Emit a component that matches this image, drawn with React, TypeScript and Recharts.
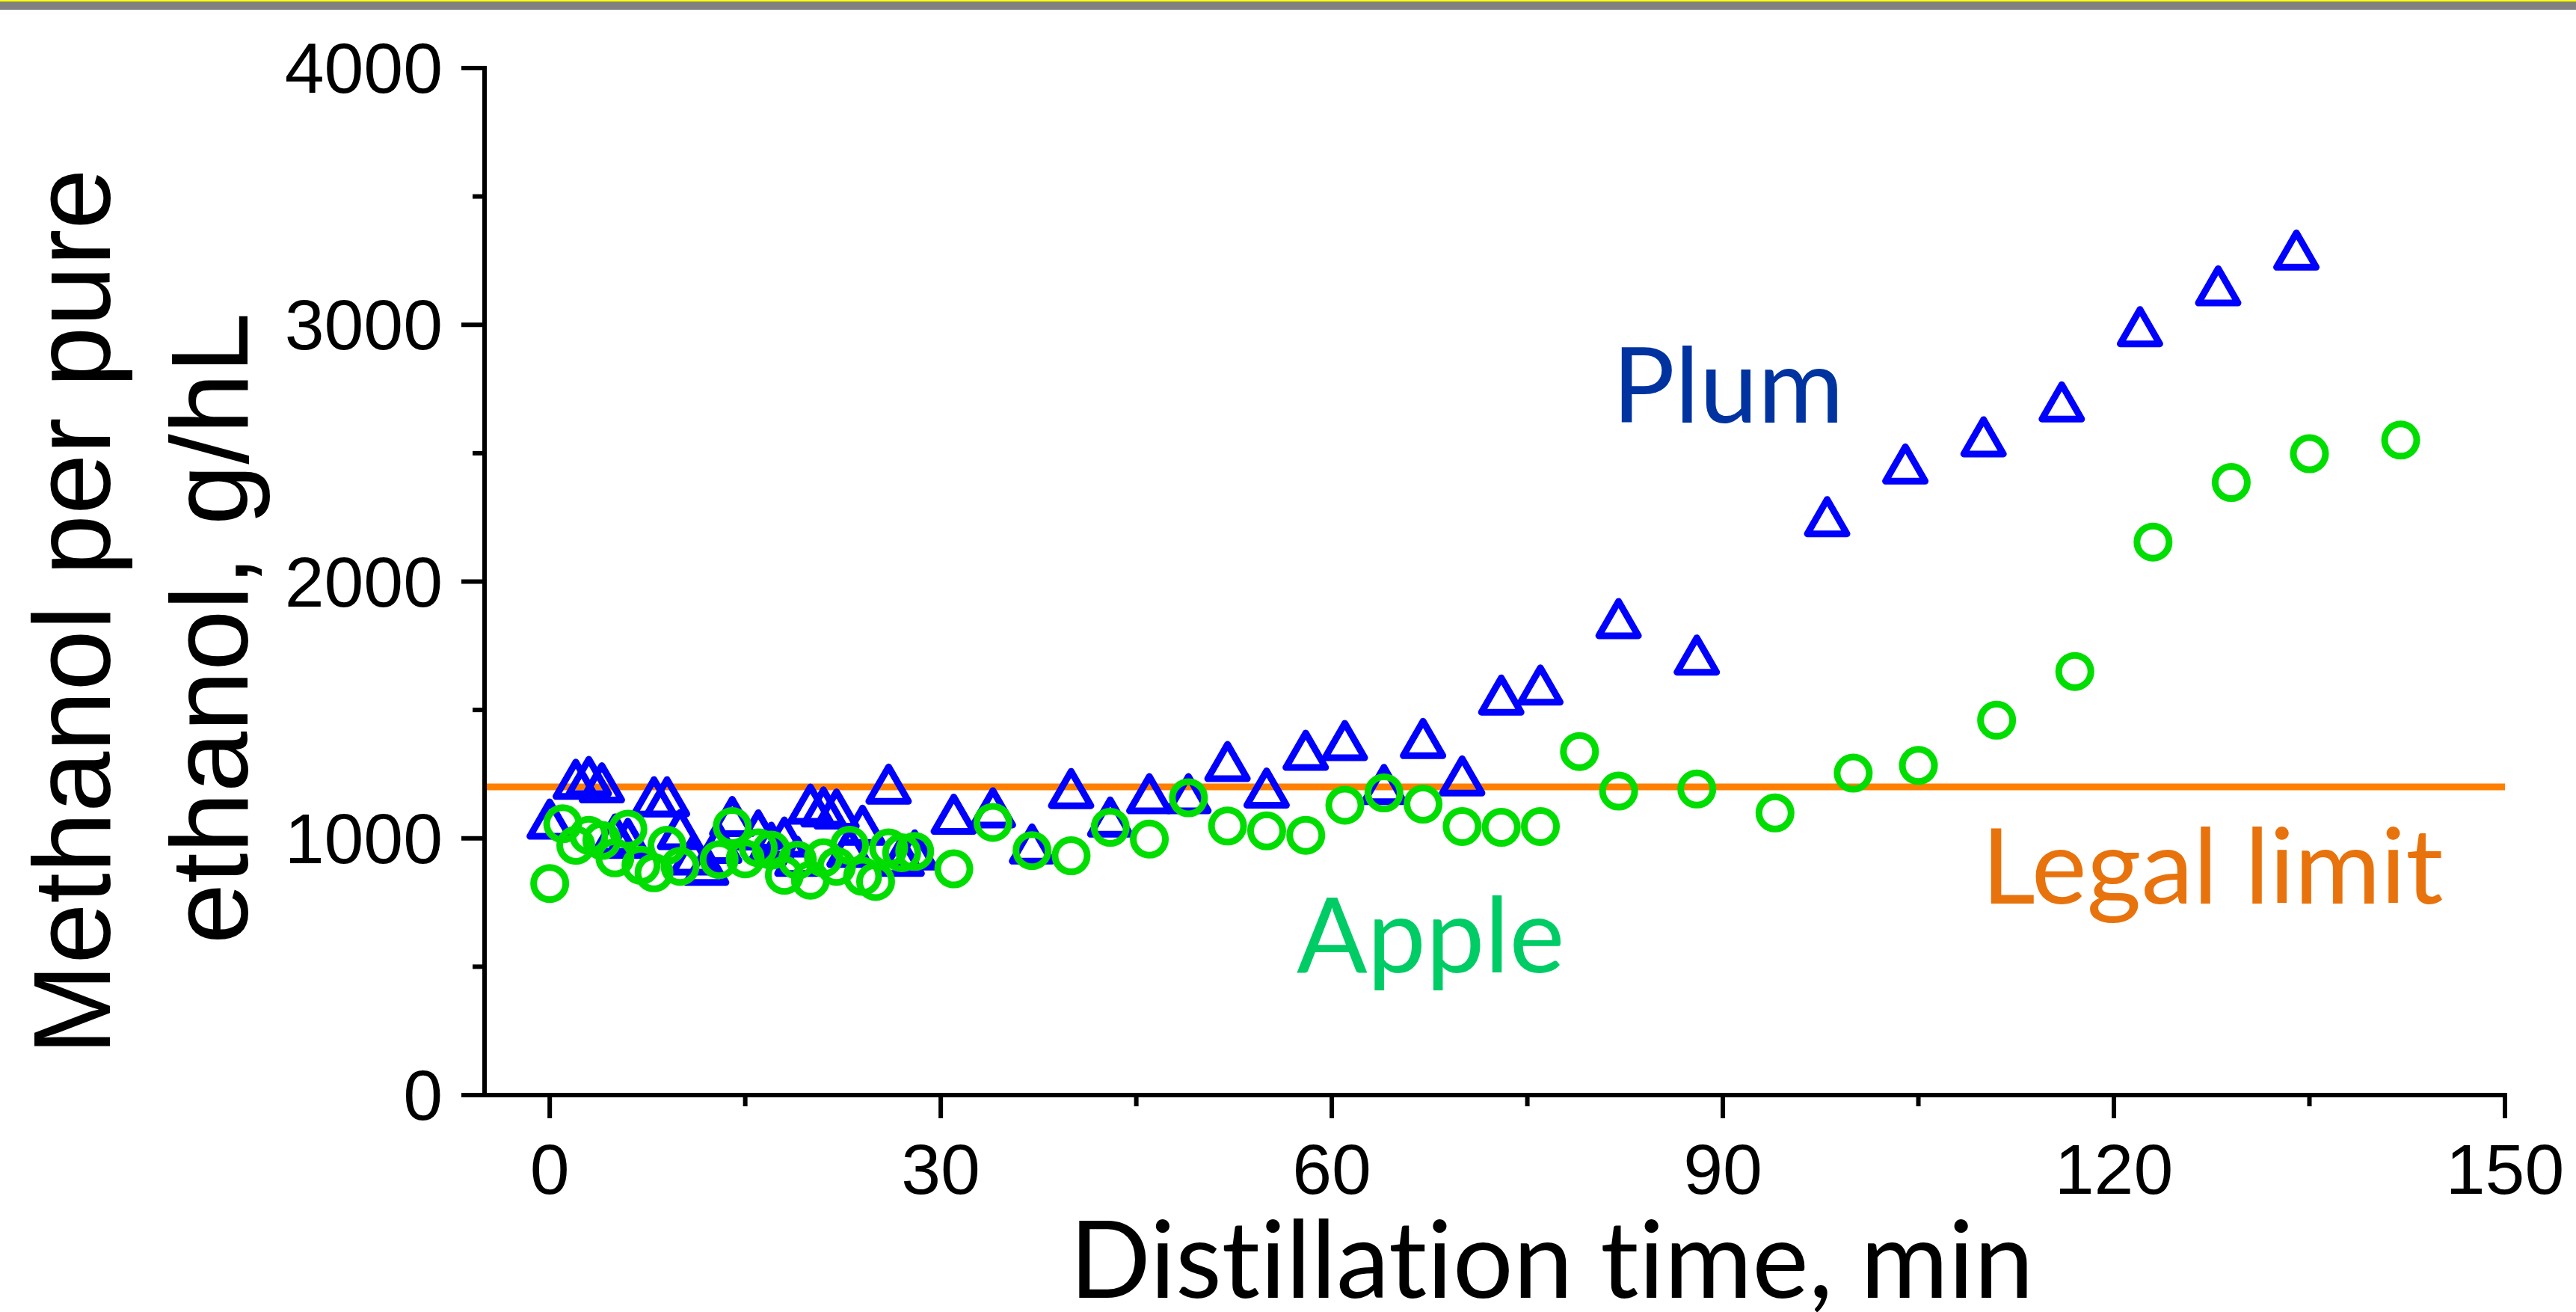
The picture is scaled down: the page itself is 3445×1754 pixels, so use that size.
import React from 'react';
import { ScatterChart, Scatter, XAxis, YAxis, ReferenceLine } from 'recharts';

const plumTime = [0, 2, 3, 4, 5, 6, 8, 9, 10, 11, 12, 13, 14, 16, 17, 18, 19, 20, 21, 22, 23, 24, 26, 27, 28, 31, 34, 37, 40, 43, 46, 49, 52, 55, 58, 61, 64, 67, 70, 73, 76, 82, 88, 98, 104, 110, 116, 122, 128, 134];
const plumMethanol = [1075, 1230, 1241, 1216, 1017, 1000, 1162, 1162, 1034, 935, 895, 980, 1085, 1033, 985, 1005, 930, 1133, 1122, 1114, 965, 1051, 1211, 930, 955, 1094, 1119, 978, 1194, 1083, 1174, 1174, 1299, 1196, 1343, 1381, 1210, 1389, 1243, 1558, 1597, 1856, 1714, 2253, 2458, 2564, 2700, 2993, 3152, 3291];

const appleTime = [0, 1, 2, 3, 4, 5, 6, 7, 8, 9, 10, 13, 14, 15, 16, 17, 18, 19, 20, 21, 22, 23, 24, 25, 26, 27, 28, 31, 34, 37, 40, 43, 46, 49, 52, 55, 58, 61, 64, 67, 70, 73, 76, 79, 82, 88, 94, 100, 105, 111, 117, 123, 129, 135, 142];
const appleMethanol = [824, 1057, 973, 1012, 992, 924, 1036, 895, 866, 973, 891, 917, 1046, 920, 963, 954, 856, 915, 837, 924, 891, 973, 852, 832, 963, 944, 949, 881, 1062, 952, 932, 1043, 997, 1158, 1048, 1029, 1012, 1129, 1177, 1133, 1046, 1043, 1046, 1338, 1184, 1192, 1099, 1254, 1284, 1460, 1650, 2154, 2386, 2498, 2551];

const legalLimit = 1200;
const xTicks = [0, 15, 30, 45, 60, 75, 90, 105, 120, 135, 150];
const yTicks = [0, 500, 1000, 1500, 2000, 2500, 3000, 3500, 4000];

const plumData = plumTime.map((t, i) => ({ x: t, y: plumMethanol[i] }));
const appleData = appleTime.map((t, i) => ({ x: t, y: appleMethanol[i] }));

const tickFont = "'Liberation Sans', Arial, sans-serif";
const calFont = "Lato, 'Open Sans', sans-serif";
const noLig = { fontVariantLigatures: 'none' as const, fontFeatureSettings: '"liga" 0, "clig" 0' };

const Triangle = (props: any) => {
  const { cx, cy } = props;
  if (cx == null || cy == null) return <g />;
  const w = 26.5;
  const h = 23;
  const pts = `${cx},${cy - h} ${cx - w},${cy + h} ${cx + w},${cy + h}`;
  return <polygon points={pts} fill="none" stroke="#0000FF" strokeWidth={9} strokeLinejoin="round" />;
};

const Circle = (props: any) => {
  const { cx, cy } = props;
  if (cx == null || cy == null) return <g />;
  return <circle cx={cx} cy={cy} r={21.5} fill="none" stroke="#00DD00" strokeWidth={9} />;
};

const XTick = (props: any) => {
  const { x, y, payload } = props;
  const major = payload.value % 30 === 0;
  return (
    <g>
      <line x1={x} x2={x} y1={y} y2={y + (major ? 31 : 15)} stroke="#000" strokeWidth={6} />
      {major && (
        <text x={x} y={y + 132} textAnchor="middle" fontSize={95} fontFamily={tickFont} fill="#000">
          {payload.value}
        </text>
      )}
    </g>
  );
};

const YTick = (props: any) => {
  const { x, y, payload } = props;
  const major = payload.value % 1000 === 0;
  return (
    <g>
      <line x1={x} x2={x - (major ? 31 : 16)} y1={y} y2={y} stroke="#000" strokeWidth={6} />
      {major && (
        <text x={x - 56} y={y + 33} textAnchor="end" fontSize={95} fontFamily={tickFont} fill="#000">
          {payload.value}
        </text>
      )}
    </g>
  );
};

const axisLineStyle = { stroke: '#000', strokeWidth: 6, strokeLinecap: 'square' as const };

export default function App() {
  return (
    <div style={{ position: 'absolute', left: 0, top: 0, width: 3445, height: 1754, background: '#fff', overflow: 'hidden' }}>
      <div style={{ position: 'absolute', left: 0, top: 0, width: 3445, height: 2, background: '#FFFF00' }} />
      <div style={{ position: 'absolute', left: 0, top: 2, width: 3445, height: 11, background: '#808080' }} />
      <div style={{ position: 'absolute', left: 0, top: 0 }}>
        <ScatterChart width={3445} height={1754} margin={{ top: 91, right: 95, bottom: 190, left: 448 }}>
          <XAxis
            dataKey="x"
            type="number"
            domain={[-5, 150]}
            ticks={xTicks}
            interval={0}
            tickLine={false}
            tickSize={0}
            tickMargin={0}
            axisLine={axisLineStyle}
            tick={XTick}
            height={100}
            allowDataOverflow
          />
          <XAxis
            xAxisId="top"
            orientation="top"
            type="number"
            domain={[-5, 150]}
            tick={false}
            tickLine={false}
            axisLine={axisLineStyle}
            height={0}
          />
          <YAxis
            dataKey="y"
            type="number"
            domain={[0, 4000]}
            ticks={yTicks}
            interval={0}
            tickLine={false}
            tickSize={0}
            tickMargin={0}
            axisLine={axisLineStyle}
            tick={YTick}
            width={200}
            allowDataOverflow
          />
          <YAxis
            yAxisId="right"
            orientation="right"
            type="number"
            domain={[0, 4000]}
            tick={false}
            tickLine={false}
            axisLine={axisLineStyle}
            width={0}
          />
          <ReferenceLine y={legalLimit} stroke="#FF8000" strokeWidth={9} />
          <Scatter name="Plum" data={plumData} shape={Triangle} isAnimationActive={false} />
          <Scatter name="Apple" data={appleData} shape={Circle} isAnimationActive={false} />
        </ScatterChart>
      </div>
      <svg width={3445} height={1754} style={{ position: 'absolute', left: 0, top: 0, pointerEvents: 'none' }}>
        <text transform="translate(147, 818) rotate(-90)" textAnchor="middle" fontSize={146} fontFamily={tickFont} fill="#000">
          Methanol per pure
        </text>
        <text transform="translate(331, 840) rotate(-90)" textAnchor="middle" fontSize={146} fontFamily={tickFont} fill="#000">
          ethanol, g/hL
        </text>
        <text x={2075} y={1735} textAnchor="middle" fontSize={143} fontFamily={calFont} fill="#000" style={noLig}>
          Distillation time, min
        </text>
        <text x={2156} y={565} fontSize={140} fontFamily={calFont} fill="#0033A0" style={noLig}>
          Plum
        </text>
        <text x={1734} y={1300} fontSize={140} fontFamily={calFont} fill="#00CC66" style={noLig}>
          Apple
        </text>
        <text x={2650} y={1208} fontSize={140} fontFamily={calFont} fill="#E8720C" style={noLig}>
          Legal limit
        </text>
      </svg>
    </div>
  );
}
